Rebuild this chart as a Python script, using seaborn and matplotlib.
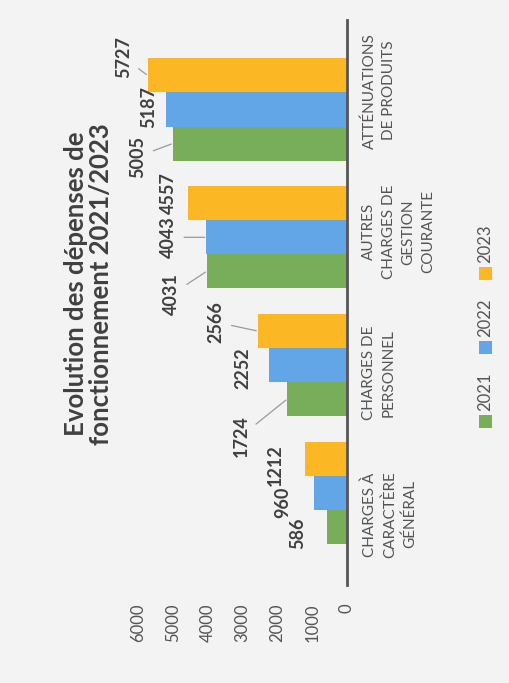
import matplotlib
matplotlib.use("Agg")
import matplotlib.pyplot as plt
from matplotlib.patches import Rectangle
import pandas as pd
import seaborn as sns

# --- data ---------------------------------------------------------------
categories = [
    "CHARGES À\nCARACTÈRE\nGÉNÉRAL",
    "CHARGES DE\nPERSONNEL",
    "AUTRES\nCHARGES DE\nGESTION\nCOURANTE",
    "ATTÉNUATIONS\nDE PRODUITS",
]
years = ["2021", "2022", "2023"]
values_2021 = [586, 1724, 4031, 5005]
values_2022 = [960, 2252, 4043, 5187]
values_2023 = [1212, 2566, 4557, 5727]
value_ticks = [0, 1000, 2000, 3000, 4000, 5000, 6000]
title = "Evolution des dépenses de\nfonctionnement 2021/2023"

# --- styling --------------------------------------------------------------
colors = ["#78ad5a", "#62a6e8", "#fbb824"]
# value-label offsets (pixels from the bar end) and whether a leader line is drawn
label_offsets = [
    [(-29, -6), (-46, -37), (-35, -23), (-35, -13)],
    [(-31, -9), (-26, -3), (-38, 0), (-18, 2)],
    [(-29, -6), (-42, 9), (-20, 10), (-24, 18)],
]
leaders = [
    [False, True, True, True],
    [False, False, True, False],
    [False, True, False, True],
]

sns.set_style("white")
plt.rcParams["font.family"] = ["Lato", "DejaVu Sans"]

series = [values_2021, values_2022, values_2023]
df = pd.DataFrame(
    [
        {"categorie": c, "annee": y, "valeur": v}
        for y, vals in zip(years, series)
        for c, v in zip(categories, vals)
    ]
)

W, H = 509, 683
fig = plt.figure(figsize=(W / 100, H / 100), dpi=100, facecolor="#f3f3f3")

# axes placed in pixel terms: value 6000 at x=138, 0 at x=347; top 20, bottom 585
ax = fig.add_axes([138 / W, 1 - 585 / H, (347 - 138) / W, (585 - 20) / H])
ax.set_facecolor("none")

sns.barplot(
    data=df, x="valeur", y="categorie", hue="annee",
    order=categories, hue_order=years, palette=colors,
    orient="h", width=0.8, saturation=1, legend=False, ax=ax,
    linewidth=0, edgecolor="none",
)

ax.set_xlim(6000, 0)
ax.set_ylim(-0.72, 3.70)
ax.set_xticks(value_ticks)
ax.set_xticklabels([str(t) for t in value_ticks], rotation=90,
                   fontsize=12, color="#555555")
ax.tick_params(axis="x", length=0, pad=13)
ax.set_yticks([])
ax.set_xlabel("")
ax.set_ylabel("")
for side in ["top", "left", "bottom"]:
    ax.spines[side].set_visible(False)
ax.spines["right"].set_color("#555555")
ax.spines["right"].set_linewidth(2)

# value labels
for h, container in enumerate(ax.containers):
    for i, bar in enumerate(container):
        v = series[h][i]
        yc = bar.get_y() + bar.get_height() / 2
        dx, dy = label_offsets[h][i]
        arrow = (dict(arrowstyle="-", color="#9a9a9a", lw=0.9,
                      shrinkA=3, shrinkB=1) if leaders[h][i] else None)
        ax.annotate(
            f"{v}", xy=(bar.get_width(), yc), xytext=(dx, dy),
            textcoords="offset pixels", rotation=90, ha="center",
            va="center", fontsize=13, fontweight="bold", color="#404040",
            arrowprops=arrow, annotation_clip=False,
        )

# category labels on a twin axis (floor positions)
ax2 = ax.twinx()
ax2.set_ylim(-0.5, 3.5)
ax2.set_yticks(range(len(categories)))
ax2.set_yticklabels(categories, rotation=90, fontsize=11, color="#555555",
                    multialignment="center", linespacing=1.5)
for lbl in ax2.get_yticklabels():
    lbl.set_verticalalignment("center")
ax2.tick_params(axis="y", length=0, pad=11)
for s in ax2.spines.values():
    s.set_visible(False)

# title
fig.text(89 / W, 1 - 284 / H, title, rotation=90, ha="center", va="center",
         fontsize=18.5, fontweight="bold", color="#404040",
         multialignment="center", linespacing=1.05)

# legend, drawn along the right edge
for k, (yr, col) in enumerate(zip(years, colors)):
    sq_y = 421 - 74 * k
    fig.add_artist(Rectangle(((485 - 6.5) / W, 1 - (sq_y + 6.5) / H),
                             13 / W, 13 / H, transform=fig.transFigure,
                             facecolor=col, edgecolor="none"))
    fig.text(485 / W, 1 - (sq_y - 29) / H, yr, rotation=90, ha="center",
             va="center", fontsize=12, color="#555555")

fig.savefig("out.png", dpi=100, facecolor=fig.get_facecolor())
